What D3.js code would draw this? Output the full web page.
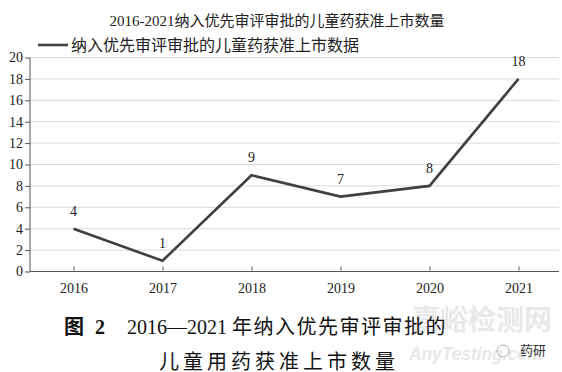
<!DOCTYPE html>
<html><head><meta charset="utf-8">
<script src="https://cdn.jsdelivr.net/npm/d3@7"></script>
<style>
body{margin:0;background:#fff;}
svg{display:block;}
</style></head>
<body>
<svg id="c" width="562" height="372"></svg>
<script>
const years = ["2016","2017","2018","2019","2020","2021"];
const counts = [4,1,9,7,8,18];
const yTicks = [0,2,4,6,8,10,12,14,16,18,20];
const chartTitle = "2016-2021纳入优先审评审批的儿童药获准上市数量";
const legendLabel = "纳入优先审评审批的儿童药获准上市数据";

const serif = "'Liberation Serif','Times New Roman','Noto Sans CJK SC',serif";
const svg = d3.select("#c");
const x = d3.scalePoint().domain(years).range([29, 563]).padding(0.5);
const y = d3.scaleLinear().domain([0,20]).range([271.5, 57.5]);

// gridlines
svg.append("g").selectAll("line").data(yTicks.filter(d=>d>0)).join("line")
  .attr("x1",30).attr("x2",559).attr("y1",d=>y(d)).attr("y2",d=>y(d))
  .attr("stroke","#d9d9d9").attr("stroke-width",1);

// y axis
const ya = svg.append("g").attr("transform","translate(30,0)")
  .call(d3.axisLeft(y).tickValues(yTicks).tickSize(5).tickPadding(2));
ya.select(".domain").attr("stroke","#555").attr("d","M0,57.5V271.5");
ya.selectAll(".tick line").attr("stroke","#555");
ya.selectAll("text").attr("font-family",serif).attr("font-size",14).attr("fill","#222");

// x axis
const xa = svg.append("g").attr("transform","translate(0,271.5)")
  .call(d3.axisBottom(x).tickSize(5).tickPadding(4));
xa.select(".domain").attr("stroke","#555").attr("d","M30,0H559");
xa.selectAll(".tick line").attr("stroke","#555").attr("y1",-1).attr("y2",-5);
xa.selectAll("text").attr("font-family",serif).attr("font-size",14).attr("fill","#222").attr("dy","0.9em");

// line
svg.append("path").datum(counts)
  .attr("fill","none").attr("stroke","#404040").attr("stroke-width",2.6)
  .attr("stroke-linejoin","miter")
  .attr("d", d3.line().x((d,i)=>x(years[i])).y(d=>y(d)));

// data labels
svg.append("g").selectAll("text").data(counts).join("text")
  .attr("x",(d,i)=>x(years[i])).attr("y",d=>y(d)-13)
  .attr("text-anchor","middle").attr("font-family",serif).attr("font-size",14).attr("fill","#222")
  .text(d=>d);

// title
svg.append("text").attr("x",277).attr("y",26).attr("text-anchor","middle")
  .attr("font-family",serif).attr("font-size",15).attr("fill","#222").text(chartTitle);

// legend
svg.append("line").attr("x1",38).attr("x2",68).attr("y1",45).attr("y2",45)
  .attr("stroke","#404040").attr("stroke-width",2.6);
svg.append("text").attr("x",71).attr("y",51).attr("font-family",serif).attr("font-size",16)
  .attr("fill","#222").text(legendLabel);

// watermark
svg.append("text").attr("x",412).attr("y",330).attr("font-family","'Noto Sans CJK SC',sans-serif")
  .attr("font-size",28).attr("font-weight","bold").attr("fill","#e8e8e8").text("嘉峪检测网");
svg.append("text").attr("x",409).attr("y",360).attr("font-family","'Liberation Sans',sans-serif")
  .attr("font-size",19).attr("font-weight","bold").attr("font-style","italic").attr("fill","#e8e8e8")
  .attr("textLength",134).attr("lengthAdjust","spacingAndGlyphs").text("AnyTesting.com");

// caption
const cap = svg.append("text").attr("y",334).attr("font-family",serif).attr("font-size",20).attr("fill","#111");
cap.append("tspan").attr("x",64).attr("font-weight","bold").attr("letter-spacing",3).text("图 2");
cap.append("tspan").attr("x",127).text("2016—2021 ");
cap.append("tspan").attr("letter-spacing",1.5).text("年纳入优先审评审批的");
svg.append("text").attr("x",159).attr("y",369).attr("font-family",serif).attr("font-size",20)
  .attr("letter-spacing",4).attr("fill","#111").text("儿童用药获准上市数量");

// wechat tag
svg.append("text").attr("x",520).attr("y",355).attr("font-family","'Noto Sans CJK SC',sans-serif")
  .attr("font-size",13).attr("fill","#333").text("药研");
svg.append("circle").attr("cx",503).attr("cy",351).attr("r",6).attr("fill","none").attr("stroke","#999").attr("stroke-width",0.8);
</script>
</body></html>
